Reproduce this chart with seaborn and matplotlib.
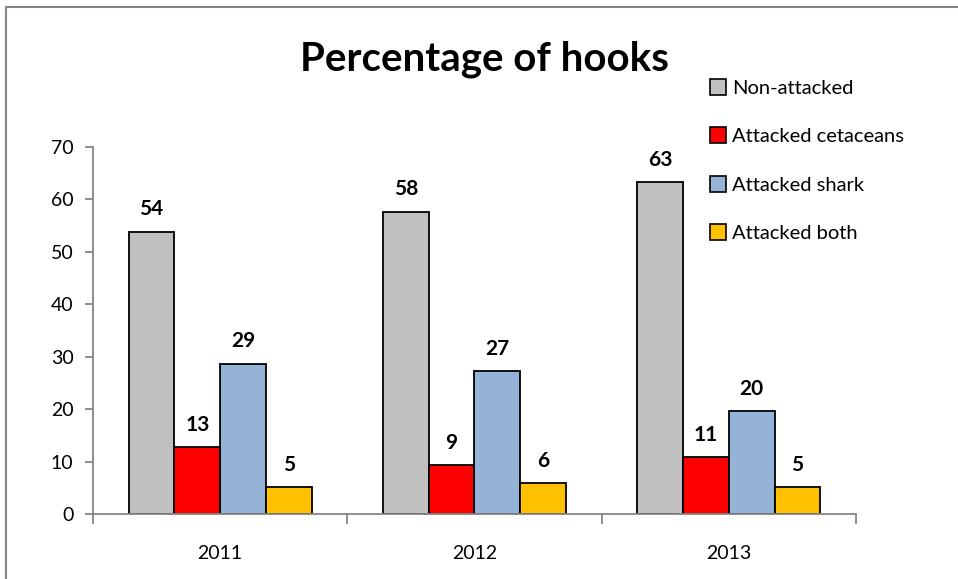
import matplotlib

matplotlib.use("Agg")

import matplotlib.pyplot as plt
import pandas as pd
import seaborn as sns
from matplotlib.lines import Line2D

years = ["2011", "2012", "2013"]
series = ["Non-attacked", "Attacked cetaceans", "Attacked shark", "Attacked both"]
non_attacked = [53.8, 57.7, 63.3]
attacked_cetaceans = [12.7, 9.3, 10.8]
attacked_shark = [28.7, 27.2, 19.6]
attacked_both = [5.1, 5.9, 5.1]
colors = ["#C0C0C0", "#FF0000", "#95B3D7", "#FFC000"]

rows = []
for name, vals in zip(series, [non_attacked, attacked_cetaceans, attacked_shark, attacked_both]):
    for yr, v in zip(years, vals):
        rows.append({"year": yr, "type": name, "pct": v})
df = pd.DataFrame(rows)

sns.set_style("white")
plt.rcParams["font.family"] = ["Lato", "DejaVu Sans"]
plt.rcParams["text.color"] = "black"
plt.rcParams["xtick.labelcolor"] = "black"
plt.rcParams["ytick.labelcolor"] = "black"

fig = plt.figure(figsize=(9.58, 5.79), dpi=100)
ax = fig.add_axes([0.0971, 0.1123, 0.7964, 0.6337])

sns.barplot(
    data=df,
    x="year",
    y="pct",
    hue="type",
    hue_order=series,
    palette=colors,
    edgecolor="black",
    linewidth=1.3,
    width=0.72,
    gap=0,
    saturation=1,
    errorbar=None,
    ax=ax,
    legend=False,
)

# value labels above bars
for cont in ax.containers:
    ax.bar_label(cont, fmt="%.0f", padding=9, fontsize=15, fontweight="bold",
                 color="black")

ax.set_ylim(0, 70)
ax.set_yticks(range(0, 71, 10))
ax.set_xlim(-0.5, 2.5)
ax.set_xlabel("")
ax.set_ylabel("")

for side in ["top", "right"]:
    ax.spines[side].set_visible(False)
for side in ["left", "bottom"]:
    ax.spines[side].set_color("#868686")
    ax.spines[side].set_linewidth(1.3)

ax.tick_params(axis="y", which="major", direction="out", length=6, width=1.3,
               color="#868686", labelsize=14, pad=8, left=True)
ax.tick_params(axis="x", which="major", length=0, labelsize=14, pad=22)
ax.set_xticks([-0.5, 0.5, 1.5, 2.5], minor=True)
ax.tick_params(axis="x", which="minor", direction="out", length=7, width=1.3,
               color="#868686", bottom=True)

fig.text(0.506, 0.898, "Percentage of hooks", ha="center", va="center",
         fontsize=29, fontweight="bold")

handles = [
    Line2D([], [], marker="s", linestyle="", markersize=12, markerfacecolor=c,
           markeredgecolor="black", markeredgewidth=1.2)
    for c in colors
]
fig.legend(
    handles,
    series,
    loc="upper left",
    bbox_to_anchor=(0.741, 0.862),
    frameon=False,
    fontsize=14.5,
    handlelength=0.8,
    handletextpad=0.3,
    labelspacing=1.55,
    borderaxespad=0,
    borderpad=0,
)

# outer chart-area border (only left and top edges visible in the crop)
fig.add_artist(Line2D([6 / 958, 6 / 958], [0, 572 / 579], transform=fig.transFigure,
                      color="#868686", linewidth=1.5))
fig.add_artist(Line2D([6 / 958, 1], [572 / 579, 572 / 579], transform=fig.transFigure,
                      color="#868686", linewidth=1.5))

fig.savefig("out.png", dpi=100)
